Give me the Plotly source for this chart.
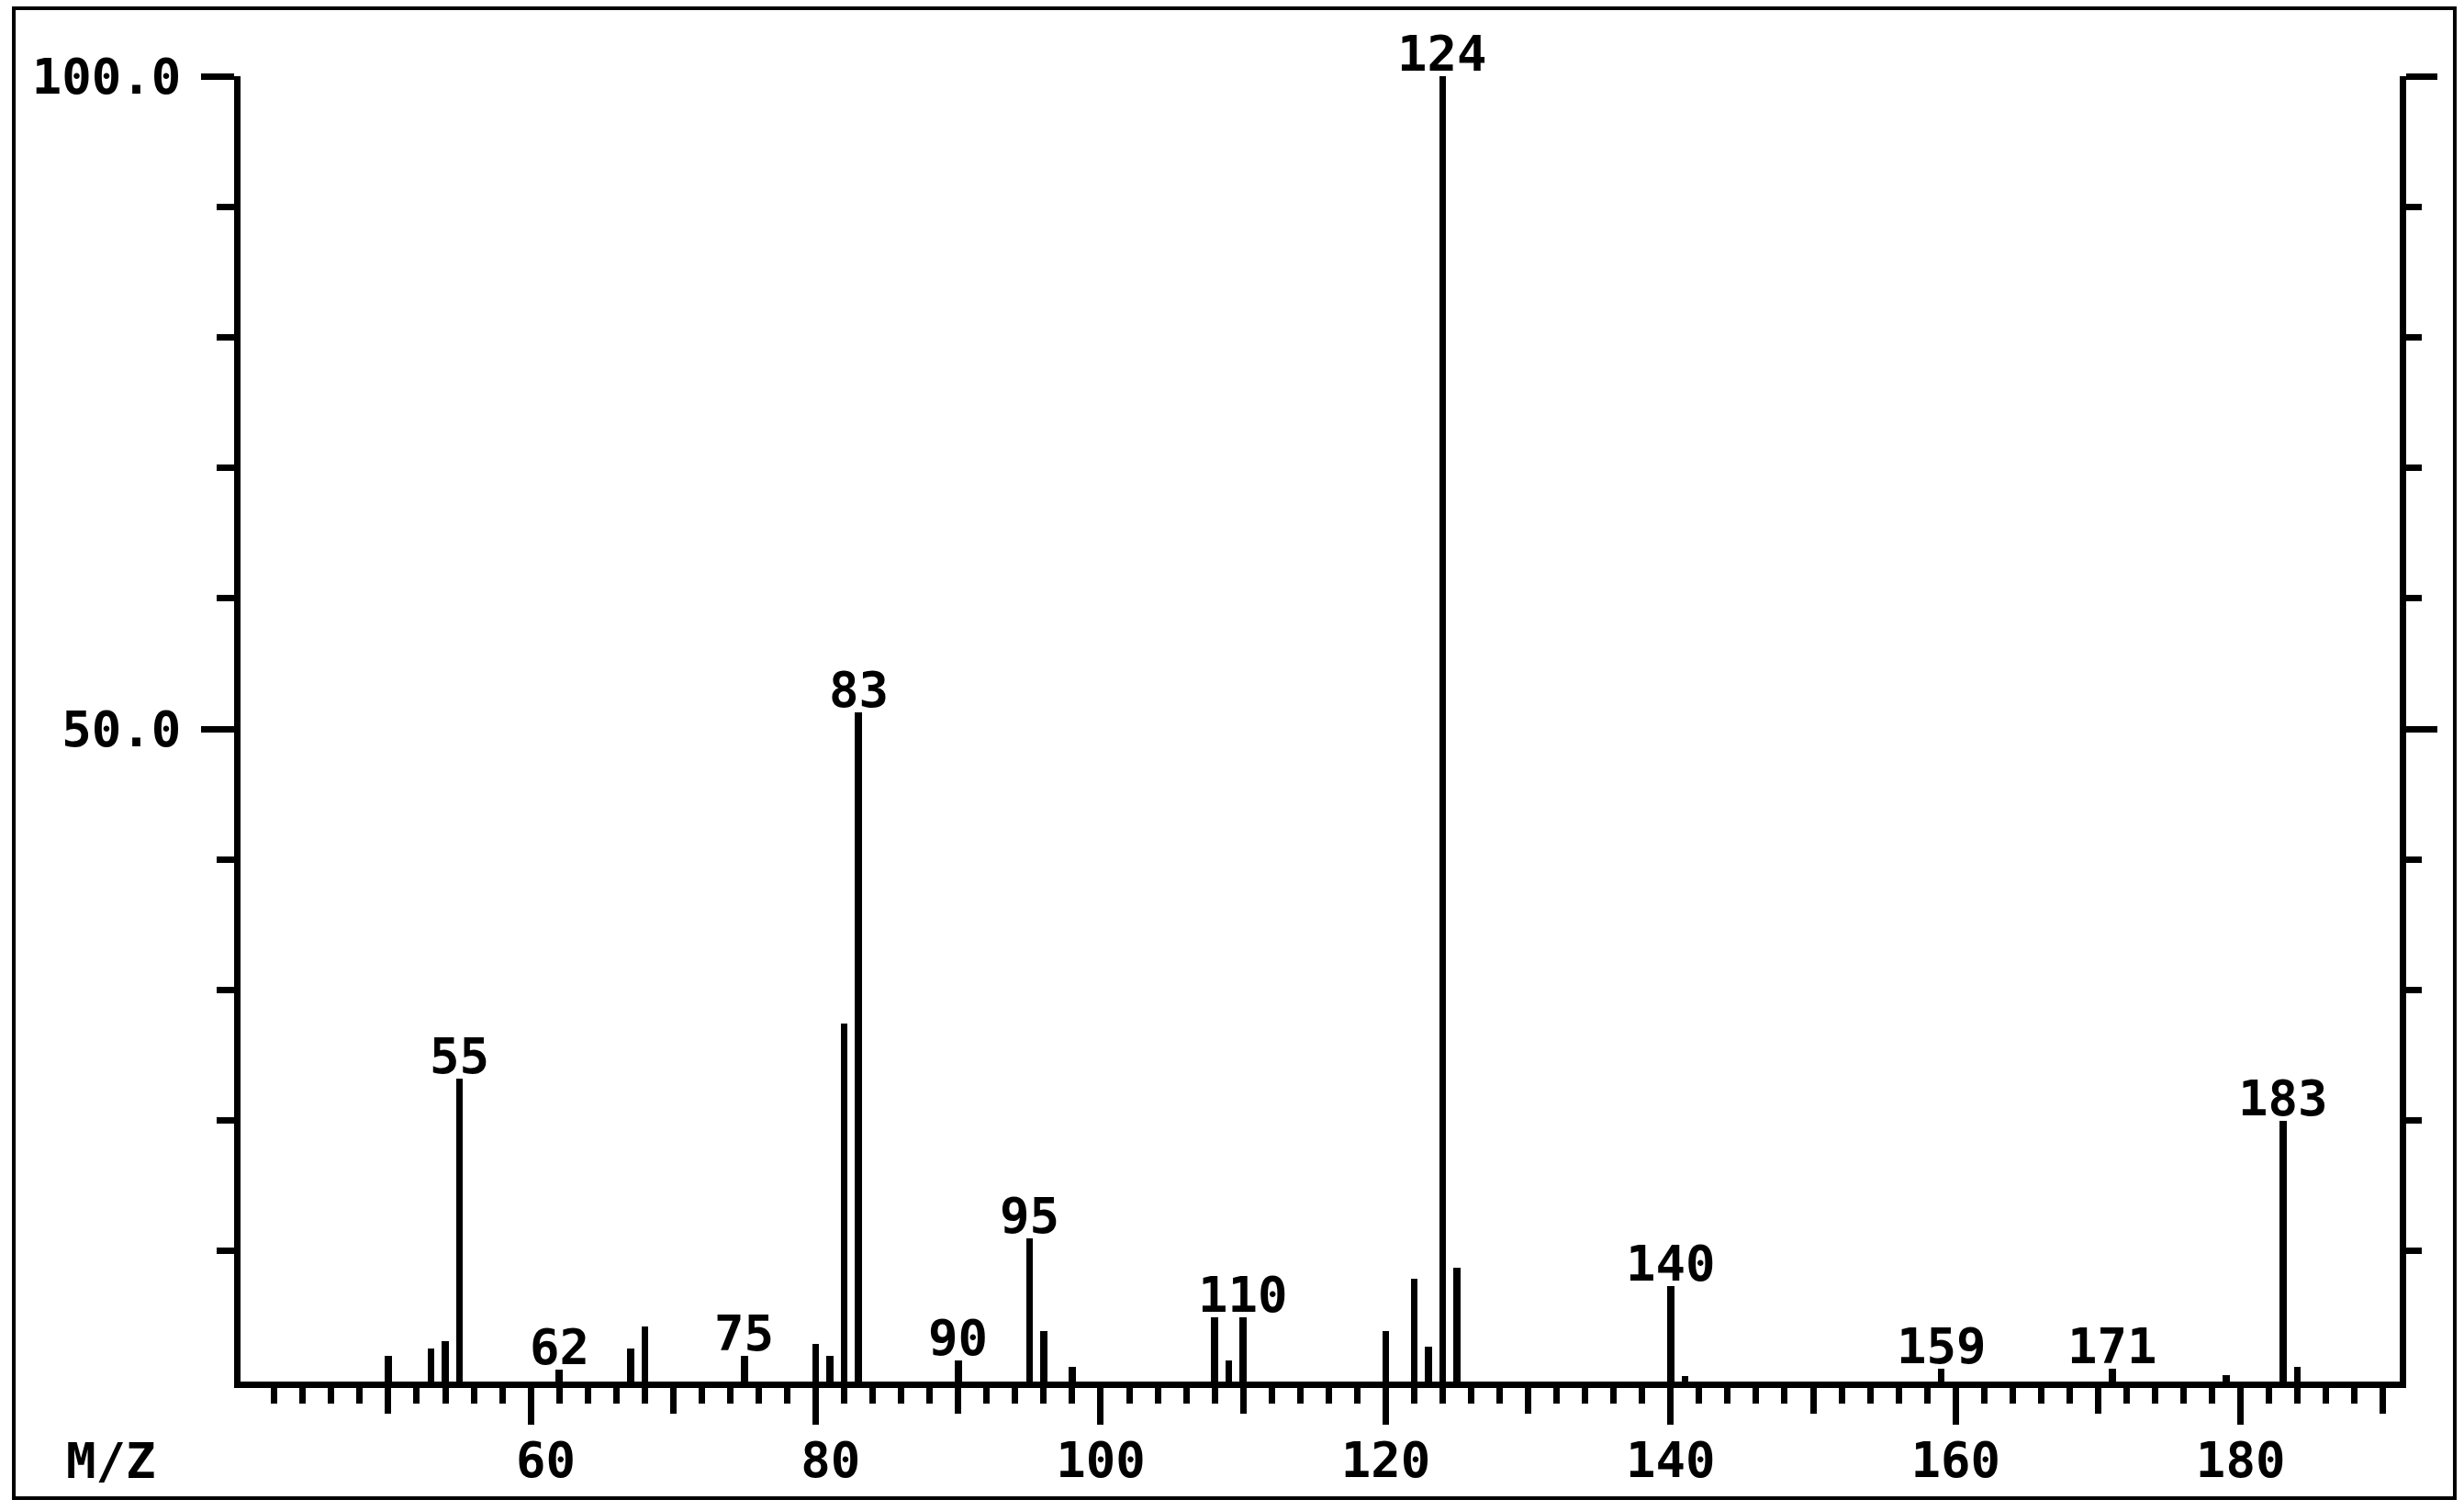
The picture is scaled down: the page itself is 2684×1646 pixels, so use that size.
import plotly.graph_objects as go

# m/z and relative intensity (%)
mz = [50, 53, 54, 55, 62, 67, 68, 75, 80, 81, 82, 83, 90, 95, 96, 98,
      108, 109, 110, 120, 122, 123, 124, 125, 140, 141, 159, 171, 179, 183, 184]
intensity = [2.0, 2.5, 3.1, 23.2, 0.9, 2.5, 4.2, 2.0, 2.9, 2.0, 27.4, 51.3, 1.6, 11.0, 3.9, 1.1,
             4.9, 1.6, 4.9, 3.9, 7.9, 2.7, 100.0, 8.7, 7.3, 0.4, 1.0, 1.0, 0.5, 20.0, 1.1]

# peaks that carry an m/z label above them
labeled = [55, 62, 75, 83, 90, 95, 110, 124, 140, 159, 171, 183]

# axis ticks
x_range = [39.63, 191.17]
x_major = [60, 80, 100, 120, 140, 160, 180]
x_mid = [50, 70, 90, 110, 130, 150, 170, 190]
x_minor = list(range(42, 192, 2))
y_major = [50, 100]
y_major_text = ["50.0", "100.0"]
y_minor = [10, 20, 30, 40, 60, 70, 80, 90]

FONT = dict(family="DejaVu Sans Mono", size=54, color="black", weight="bold")
LW = 7

fig = go.Figure()
fig.add_trace(go.Bar(
    x=mz, y=intensity, width=0.48,
    marker=dict(color="black", line=dict(width=0)),
    hovertemplate="m/z %{x}<br>%{y}%<extra></extra>",
    showlegend=False,
))
# empty traces so the overlay axes (extra tick lengths) are drawn
fig.add_trace(go.Scatter(x=[], y=[], xaxis="x2", yaxis="y", showlegend=False, hoverinfo="skip"))
fig.add_trace(go.Scatter(x=[], y=[], xaxis="x", yaxis="y2", showlegend=False, hoverinfo="skip"))

for m in labeled:
    fig.add_annotation(
        x=m, y=intensity[mz.index(m)], text=str(m),
        xref="x", yref="y", xanchor="center", yanchor="bottom",
        yshift=-9, showarrow=False, font=FONT,
    )

# x axis title in the bottom-left corner
fig.add_annotation(
    text="M/Z", xref="paper", yref="paper", x=-0.060, y=-0.061,
    xanchor="center", yanchor="middle", showarrow=False, font=FONT,
)

# frame round the whole page
fig.add_shape(
    type="rect", xref="paper", yref="paper",
    x0=-0.1050, x1=1.0255, y0=-0.0893, y1=1.0520,
    line=dict(color="black", width=4), fillcolor="rgba(0,0,0,0)", layer="below",
)

fig.update_layout(
    width=2684, height=1646,
    margin=dict(l=262, r=70, t=83, b=141, pad=0, autoexpand=False),
    paper_bgcolor="white", plot_bgcolor="white",
    bargap=0,
    xaxis=dict(
        range=x_range, showgrid=False, zeroline=False, automargin=False,
        showline=True, linecolor="black", linewidth=LW,
        tickmode="array", tickvals=x_major,
        ticktext=[f"{v:>3}".replace(" ", "\u00a0") for v in x_major],
        ticks="outside", ticklen=40, tickwidth=LW, tickcolor="black",
        tickfont=FONT, ticklabelstandoff=-8,
        minor=dict(tickmode="array", tickvals=x_minor, ticks="outside",
                   ticklen=17, tickwidth=LW, tickcolor="black", showgrid=False),
    ),
    xaxis2=dict(
        overlaying="x", anchor="y", side="bottom", range=x_range,
        showgrid=False, zeroline=False, automargin=False,
        showline=True, linecolor="black", linewidth=LW,
        tickmode="array", tickvals=x_mid, ticks="outside",
        ticklen=28, tickwidth=LW, tickcolor="black", showticklabels=False,
    ),
    yaxis=dict(
        range=[0, 100], showgrid=False, zeroline=False, automargin=False,
        showline=True, linecolor="black", linewidth=LW,
        tickmode="array", tickvals=y_major, ticktext=y_major_text,
        ticks="outside", ticklen=36, tickwidth=LW, tickcolor="black",
        tickfont=FONT, ticklabelstandoff=11,
        minor=dict(tickmode="array", tickvals=y_minor, ticks="outside",
                   ticklen=19, tickwidth=LW, tickcolor="black", showgrid=False),
    ),
    yaxis2=dict(
        overlaying="y", anchor="x", side="right", range=[0, 100],
        showgrid=False, zeroline=False, automargin=False,
        showline=True, linecolor="black", linewidth=LW,
        tickmode="array", tickvals=y_major, ticks="outside",
        ticklen=34, tickwidth=LW, tickcolor="black", showticklabels=False,
        minor=dict(tickmode="array", tickvals=y_minor, ticks="outside",
                   ticklen=17, tickwidth=LW, tickcolor="black", showgrid=False),
    ),
)

fig.write_html("out.html", config={"displayModeBar": False},
               post_script="document.body.style.margin='0';")
